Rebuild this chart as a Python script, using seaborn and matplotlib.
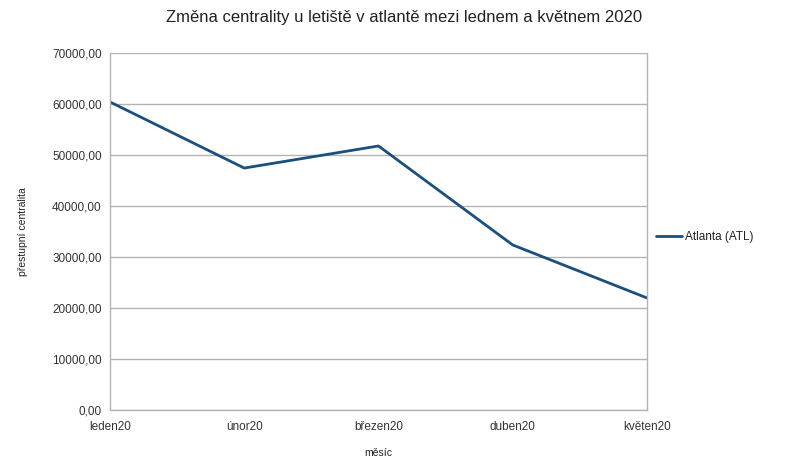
import matplotlib
matplotlib.use("Agg")
import matplotlib.pyplot as plt
import matplotlib.ticker as mticker
import seaborn as sns
import pandas as pd

# Monthly transfer centrality of Atlanta airport
months = ["leden20", "únor20", "březen20", "duben20", "květen20"]
centrality = [60400, 47440, 51770, 32360, 21970]
series_name = "Atlanta (ATL)"

df = pd.DataFrame({"měsíc": months, "centralita": centrality, "letiště": series_name})

sns.set_theme(style="white")
plt.rcParams["font.family"] = ["Liberation Sans", "DejaVu Sans"]

fig = plt.figure(figsize=(8.09, 4.59), dpi=100)
ax = fig.add_axes([110 / 809, 49 / 459, 537 / 809, 357 / 459])

sns.lineplot(data=df, x="měsíc", y="centralita", hue="letiště", sort=False,
             palette=["#1b4f7e"], linewidth=2.0, ax=ax, legend=False)

ax.set_xlim(0, len(months) - 1)
ax.set_ylim(0, 70000)
ax.yaxis.set_major_locator(mticker.MultipleLocator(10000))
ax.yaxis.set_major_formatter(mticker.FuncFormatter(lambda v, p: f"{v:.2f}".replace(".", ",")))

ax.grid(axis="y", color="#b3b3b3", linewidth=1.0)
ax.set_axisbelow(True)
for side in ["left", "bottom", "right"]:
    ax.spines[side].set_visible(True)
    ax.spines[side].set_color("#b3b3b3")
    ax.spines[side].set_linewidth(1.0)
ax.spines["top"].set_visible(False)

ax.tick_params(axis="y", which="major", direction="out", length=4, width=1,
               color="#b3b3b3", labelsize=8.5, labelcolor="#333333", pad=2)
ax.tick_params(axis="x", which="major", direction="inout", length=6, width=1,
               color="#b3b3b3", labelsize=8.5, labelcolor="#333333", pad=5)

ax.set_xlabel("měsíc", fontsize=7.5, color="#222222", labelpad=11)
ax.set_ylabel("přestupní centralita", fontsize=7.5, color="#222222", labelpad=17)

fig.suptitle("Změna centrality u letiště v atlantě mezi lednem a květnem 2020",
             x=0.5, y=0.978, fontsize=12, color="#222222")

handle = plt.Line2D([], [], color="#1b4f7e", linewidth=2.0)
fig.legend([handle], [series_name], loc="center left",
           bbox_to_anchor=(645 / 809, 1 - 237 / 459), frameon=False,
           fontsize=8.5, handlelength=2.2, handletextpad=0.3,
           labelcolor="#222222")

fig.savefig("out.png", dpi=100, facecolor="white")
